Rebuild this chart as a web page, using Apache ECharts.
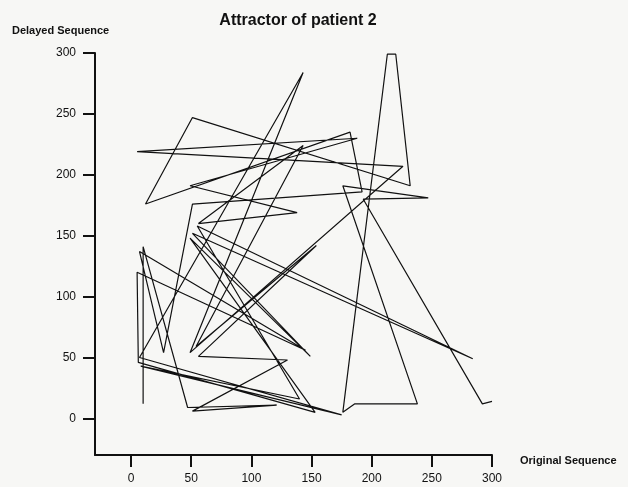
<!DOCTYPE html>
<html>
<head>
<meta charset="utf-8">
<title>Attractor of patient 2</title>
<script src="https://cdn.jsdelivr.net/npm/echarts@6/dist/echarts.min.js"></script>
<style>
  html, body { margin: 0; padding: 0; background: #f7f7f5; }
  #chart { width: 628px; height: 487px; }
</style>
</head>
<body>
<div id="chart"></div>
<script>
  // attractor trajectory, points joined in this order
  // x = original sequence, y = delayed sequence
  var originalSeq = [10, 10, 47, 121, 51, 130, 56, 154, 54, 143, 56, 138, 49, 188, 5, 226, 49, 143, 7, 175,
    8, 140, 55, 284, 51, 149, 49, 153, 6, 5, 145, 7, 27, 51, 192, 182, 12, 51, 232, 220,
    213, 176, 186, 238, 176, 247, 193, 292, 300]
  var delayedSeq = [12, 141, 9, 11, 6, 48, 51, 142, 59, 224, 160, 169, 191, 230, 219, 207, 54, 284, 50, 3,
    43, 16, 158, 49, 152, 51, 148, 5, 46, 120, 56, 137, 54, 176, 186, 235, 176, 247, 191, 299,
    299, 5, 12, 12, 191, 181, 180, 12, 14]
  var tickValues = [0, 50, 100, 150, 200, 250, 300]

  var font = 'Arial, "Liberation Sans", sans-serif'
  var points = originalSeq.map(function (v, i) { return [v, delayedSeq[i]] })

  var chart = echarts.init(document.getElementById('chart'))
  var option = {
    backgroundColor: '#f7f7f5',
    animation: false,
    title: [
      {
        text: 'Attractor of patient 2',
        left: 298,
        top: 13,
        padding: 0,
        textAlign: 'center',
        textStyle: { fontFamily: font, fontSize: 16, fontWeight: 'bold', color: '#111' },
      },
      {
        text: 'Delayed Sequence',
        left: 12,
        top: 25,
        padding: 0,
        textStyle: { fontFamily: font, fontSize: 11, fontWeight: 'bold', color: '#111' },
      },
      {
        text: 'Original Sequence',
        left: 520,
        top: 455,
        padding: 0,
        textStyle: { fontFamily: font, fontSize: 11, fontWeight: 'bold', color: '#111' },
      },
    ],
    grid: { left: 95, right: 136, top: 53, bottom: 32 },
    xAxis: {
      type: 'value',
      min: -30,
      max: 300,
      axisLine: { onZero: false, lineStyle: { color: '#111', width: 2 } },
      axisTick: { show: true, length: 12, customValues: tickValues, lineStyle: { color: '#111', width: 2 } },
      axisLabel: { customValues: tickValues, margin: 18, fontFamily: font, fontSize: 12, color: '#111' },
      splitLine: { show: false },
    },
    yAxis: {
      type: 'value',
      min: -30,
      max: 300,
      axisLine: { show: true, onZero: false, lineStyle: { color: '#111', width: 2 } },
      axisTick: { show: true, length: 12, customValues: tickValues, lineStyle: { color: '#111', width: 2 } },
      axisLabel: { customValues: tickValues, margin: 19, fontFamily: font, fontSize: 12, color: '#111' },
      splitLine: { show: false },
    },
    series: [
      {
        name: 'patient 2',
        type: 'line',
        data: points,
        symbol: 'none',
        lineStyle: { color: '#111', width: 1.2 },
      },
    ],
  }
  chart.setOption(option)
</script>
</body>
</html>
